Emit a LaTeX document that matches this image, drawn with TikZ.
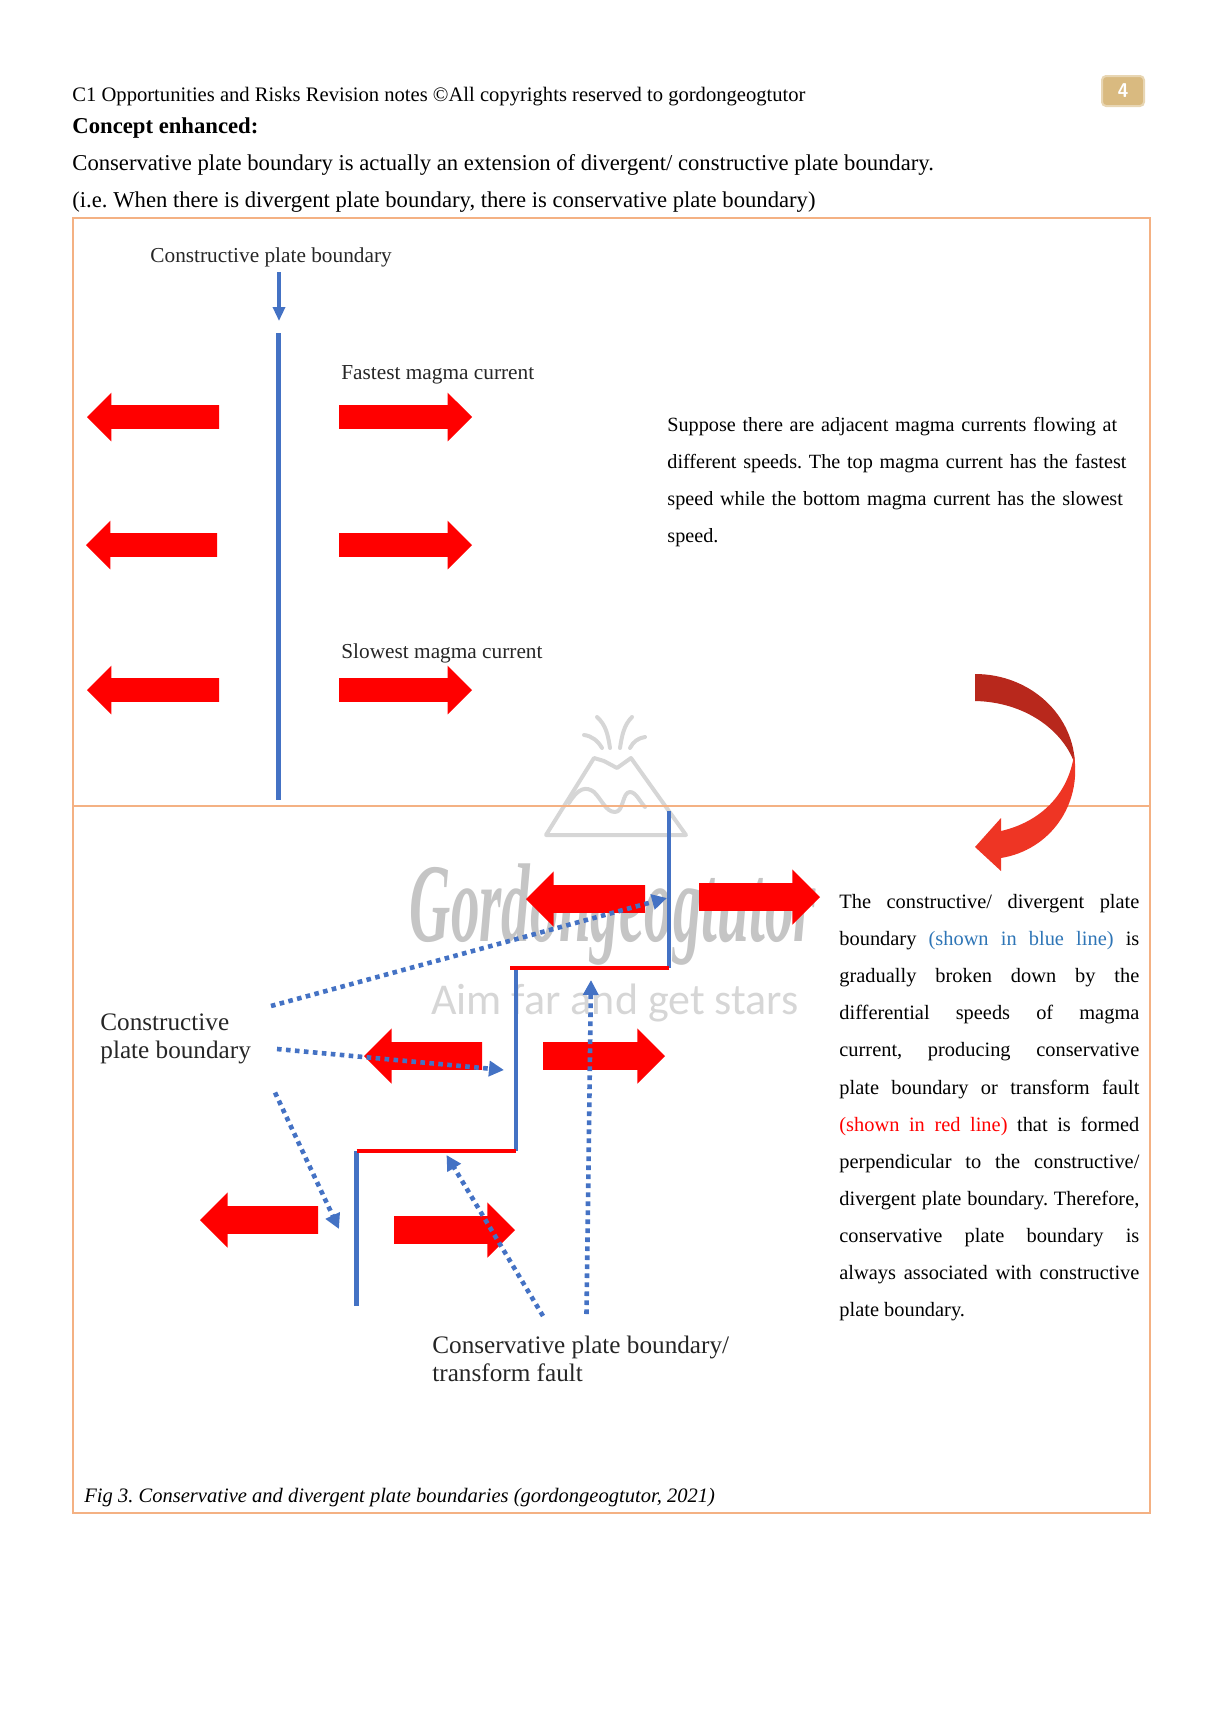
\documentclass[tikz,border=0pt]{standalone}
\usepackage{fontspec}
\setmainfont{Liberation Serif}
\newfontfamily\aimfont{Carlito}
\usetikzlibrary{arrows.meta,shapes.arrows}
\definecolor{frameorange}{HTML}{F4B183}
\definecolor{plateblue}{HTML}{4472C4}
\definecolor{wmgrey}{HTML}{D6D6D6}
\definecolor{tabtan}{HTML}{D9BA80}
\definecolor{bluetext}{HTML}{2E75B6}
\definecolor{curvedark}{HTML}{B8281C}
\definecolor{curvelight}{HTML}{EE3524}
\frenchspacing
\begin{document}
\begin{tikzpicture}[x=0.5pt, y=-0.5pt,
  pagetext/.style={anchor=west, inner sep=0, font=\fontsize{10.3}{12}\selectfont},
  figlabel/.style={anchor=west, inner sep=0, align=left, text=black!85, font=\fontsize{10.65}{12}\selectfont},
  biglabel/.style={anchor=west, inner sep=0, align=left, text=black!85, font=\fontsize{12.6}{13.7}\selectfont},
  para/.style={anchor=north west, inner sep=0, font=\fontsize{10.2}{18.55}\selectfont},
  arrowbase/.style={single arrow, fill=red, inner xsep=0, outer sep=0, anchor=tail},
  rightsmall/.style={arrowbase, inner ysep=5.75pt, single arrow head extend=6.25pt},
  leftsmall/.style={rightsmall, shape border rotate=180},
  rightbig/.style={arrowbase, inner ysep=6.75pt, single arrow head extend=6.9pt},
  leftbig/.style={rightbig, shape border rotate=180},
  plateline/.style={plateblue, line width=2.2pt},
  faultline/.style={red, line width=2.4pt},
  pointer/.style={plateblue, line width=2.3pt, dash pattern=on 2.3pt off 2.2pt, -{Triangle[length=7.5pt,width=7.5pt]}},
  volcano/.style={wmgrey, line width=2pt, line cap=round, line join=round}]
\useasboundingbox (0,0) rectangle (1224,1724);

\node[pagetext] (header) at (72,97) {C1 Opportunities and Risks Revision notes ©All copyrights reserved to gordongeogtutor};
\node[draw=tabtan!60, line width=1pt, fill=tabtan, rounded corners=2pt, minimum width=21pt, minimum height=15pt, inner sep=0, text=white, font=\sffamily\fontsize{10}{12}\bfseries\selectfont] (pagetab) at (1123,91) {4};
\node[pagetext, font=\fontsize{11.35}{14}\bfseries\selectfont] (concept) at (72,128) {Concept enhanced:};
\node[pagetext, font=\fontsize{11.33}{14}\selectfont] (line one) at (72,165) {Conservative plate boundary is actually an extension of divergent/ constructive plate boundary.};
\node[pagetext, font=\fontsize{11.33}{14}\selectfont] (line two) at (72,202) {(i.e. When there is divergent plate boundary, there is conservative plate boundary)};

\draw[volcano] (546,835) -- (594,758) -- (604,761) -- (617,768) -- (631,758) -- (686,835) -- cycle;
\draw[volcano] (569,803) .. controls (578,788) and (586,786) .. (594,792) .. controls (602,800) and (606,812) .. (615,812) .. controls (624,812) and (622,792) .. (630,792) .. controls (636,792) and (640,802) .. (645,807);
\draw[volcano] (597,717) .. controls (606,725) and (608,735) .. (610,748);
\draw[volcano] (632,717) .. controls (624,725) and (622,735) .. (620,748);
\draw[volcano] (584,735) .. controls (592,736) and (598,741) .. (602,748);
\draw[volcano] (645,737) .. controls (638,738) and (633,742) .. (630,748);
\node[inner sep=0, text=wmgrey!92!black, font=\fontsize{56}{60}\bfseries\itshape\selectfont] (wm name) at (613,915) {\scalebox{.51}[1]{Gordongeogtutor}};
\node[inner sep=0, text=wmgrey, font=\aimfont\fontsize{22}{24}\selectfont] (wm aim) at (615,1003) {Aim far and get stars};

\draw[frameorange, line width=1.2pt] (73,218) rectangle (1150,1513);
\draw[frameorange, line width=1.2pt] (73,806) -- (1150,806);

\node[figlabel] (top label) at (150,257) {Constructive plate boundary};
\node[figlabel] (fastest) at (341,375) {Fastest magma current};
\node[figlabel] (slowest) at (341,653) {Slowest magma current};
\coordinate (top a) at (279,272);
\coordinate (top b) at (279,321);
\draw[plateblue, line width=1.6pt, -{Triangle[length=7pt,width=6pt]}] (top a) -- (top b);
\coordinate (plate a) at (278.5,333);
\coordinate (plate b) at (278.5,800);
\draw[plateline] (plate a) -- (plate b);

\node[leftsmall, minimum height=66pt] (fast left) at (219,417) {};
\node[rightsmall, minimum height=66.5pt] (fast right) at (339,417) {};
\node[leftsmall, minimum height=65.5pt] (mid left) at (217,545) {};
\node[rightsmall, minimum height=66.5pt] (mid right) at (339,545) {};
\node[leftsmall, minimum height=66pt] (slow left) at (219,690) {};
\node[rightsmall, minimum height=66.5pt] (slow right) at (339,690) {};

\node[para, text width=235pt, align=left, font=\fontsize{10.1}{18.55}\selectfont] (suppose) at (667,417) {Suppose there are adjacent magma currents flowing at\\different speeds. The top magma current has the fastest\\speed while the bottom magma current has the slowest\\speed.};

\fill[curvedark] (975,674) .. controls (1030,674) and (1075,715) .. (1075,767) -- (1074,762) .. controls (1062,730) and (1025,702) .. (975,701) -- cycle;
\fill[curvelight] (1074,755) .. controls (1082,805) and (1050,850) .. (1001,858) -- (1001,871) -- (975,847) -- (1001,818) -- (1001,831) .. controls (1040,822) and (1068,795) .. (1074,755) -- cycle;

\node[leftbig, minimum height=59.5pt] (one left) at (645,899) {};
\node[rightbig, minimum height=60.5pt] (one right) at (699,897) {};
\node[leftbig, minimum height=59pt] (two left) at (482,1056) {};
\node[rightbig, minimum height=61pt] (two right) at (543,1056) {};
\node[leftbig, minimum height=59pt] (three left) at (318,1220) {};
\node[rightbig, minimum height=60.5pt] (three right) at (394,1230) {};

\coordinate (seg a) at (669,811);
\coordinate (seg b) at (669,968);
\coordinate (seg c) at (516,968);
\coordinate (seg d) at (516,1151);
\coordinate (seg e) at (356.5,1151);
\coordinate (seg f) at (356.5,1306);
\coordinate (seg g) at (510,968);
\draw[plateline] (seg a) -- (seg b);
\draw[plateline] (seg c) -- (seg d);
\draw[plateline] (seg e) -- (seg f);
\draw[faultline] (seg g) -- (seg b);
\draw[faultline] (seg e) -- (seg d);

\node[biglabel] (left label) at (100,1039) {Constructive\\plate boundary};
\node[biglabel] (fault label) at (432,1359) {Conservative plate boundary/\\transform fault};

\coordinate (from one) at (271,1006);
\coordinate (to one) at (667,898);
\coordinate (from two) at (277,1049);
\coordinate (to two) at (504,1070);
\coordinate (from three) at (275,1092.5);
\coordinate (to three) at (339,1229);
\coordinate (from four) at (543,1316);
\coordinate (to four) at (446.5,1155);
\coordinate (from five) at (586.5,1314);
\coordinate (to five) at (591,980);
\draw[pointer] (from one) -- (to one);
\draw[pointer] (from two) -- (to two);
\draw[pointer] (from three) -- (to three);
\draw[pointer] (from four) -- (to four);
\draw[pointer] (from five) -- (to five);

\node[para, text width=150pt, align=justify] (explain) at (839,894) {The constructive/ divergent plate\linebreak boundary {\color{bluetext}(shown in blue line)} is\linebreak gradually broken down by the\linebreak differential speeds of magma\linebreak current, producing conservative\linebreak plate boundary or transform fault\linebreak {\color{red}(shown in red line)} that is formed\linebreak perpendicular to the constructive/\linebreak divergent plate boundary. Therefore,\linebreak conservative plate boundary is\linebreak always associated with constructive\linebreak plate boundary.};

\node[pagetext, font=\fontsize{10.27}{12}\itshape\selectfont] (caption) at (84,1498) {Fig 3. Conservative and divergent plate boundaries (gordongeogtutor, 2021)};
\end{tikzpicture}
\end{document}
